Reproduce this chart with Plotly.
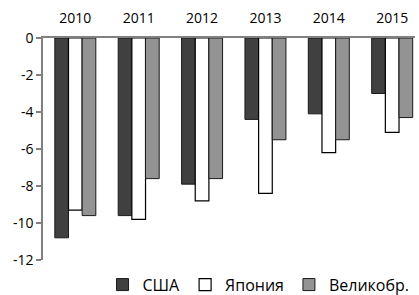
import plotly.graph_objects as go

years = ["2010", "2011", "2012", "2013", "2014", "2015"]
usa = [-10.8, -9.6, -7.9, -4.4, -4.1, -3.0]
japan = [-9.3, -9.8, -8.8, -8.4, -6.2, -5.1]
uk = [-9.6, -7.6, -7.6, -5.5, -5.5, -4.3]
y_ticks = [0, -2, -4, -6, -8, -10, -12]

fig = go.Figure()
fig.add_trace(go.Bar(name="США", x=years, y=usa,
                     marker=dict(color="#404040", line=dict(color="#1a1a1a", width=1))))
fig.add_trace(go.Bar(name="Япония", x=years, y=japan,
                     marker=dict(color="#ffffff", line=dict(color="#000000", width=1.2))))
fig.add_trace(go.Bar(name="Великобр.", x=years, y=uk,
                     marker=dict(color="#939393", line=dict(color="#1a1a1a", width=1))))

fig.update_layout(
    width=419, height=295,
    margin=dict(l=43, r=4, t=38, b=35),
    paper_bgcolor="white", plot_bgcolor="white",
    barmode="group", bargap=0.353, bargroupgap=0,
    font=dict(family="Open Sans", size=14, color="#000000"),
    showlegend=True,
    legend=dict(orientation="h", x=0.16, xanchor="left",
                yref="container", y=0.035, yanchor="middle",
                font=dict(size=16), itemwidth=30, traceorder="normal"),
    xaxis=dict(side="top", showline=True, linecolor="#808080", linewidth=1.5,
               range=[-0.51, 5.36],
               ticks="outside", ticklen=8, tickcolor="rgba(0,0,0,0)",
               showgrid=False, automargin=False, tickfont=dict(size=14)),
    yaxis=dict(range=[-12, 0], tickvals=y_ticks, ticktext=[str(v) for v in y_ticks],
               showline=True, linecolor="#808080", linewidth=1.5,
               ticks="outside", ticklen=5, tickcolor="#808080", tickwidth=1.5,
               showgrid=False, zeroline=False, automargin=False, tickfont=dict(size=14)),
)

fig.write_html("out.html", config={"displayModeBar": False},
               post_script="document.body.style.margin='0px';")
